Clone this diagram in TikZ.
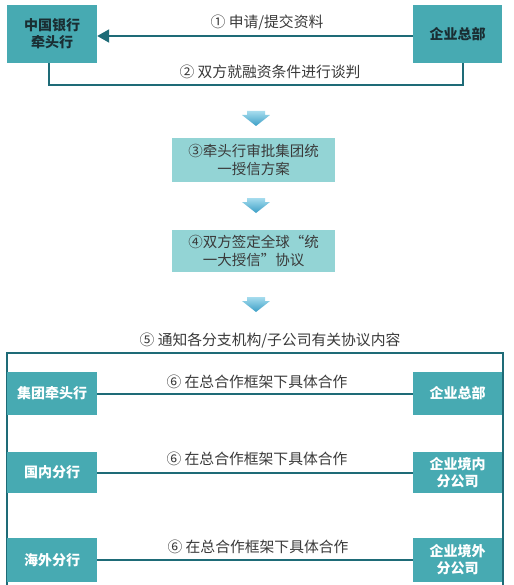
\documentclass[tikz,border=0pt]{standalone}
\usepackage{fontspec}
\setmainfont{Noto Sans CJK SC}
\usetikzlibrary{arrows.meta}
\definecolor{boxteal}{HTML}{47AAB2}
\definecolor{lightteal}{HTML}{93D4D5}
\definecolor{lineteal}{HTML}{1E6B77}
\definecolor{labelgray}{HTML}{3A3A3A}
\definecolor{darktext}{HTML}{1A2E33}
\definecolor{arrtop}{HTML}{A6DCEE}
\definecolor{arrbot}{HTML}{3B9FC6}
\tikzset{
  topbox/.style={fill=boxteal, text=darktext, font=\fontsize{14}{17}\selectfont\bfseries, align=center, inner sep=0pt},
  rowbox/.style={fill=boxteal, text=white, font=\fontsize{14}{17}\selectfont\bfseries, align=center, inner sep=0pt, minimum width=90pt},
  stepbox/.style={fill=lightteal, text=labelgray, font=\fontsize{14.5}{18}\selectfont, align=center, inner sep=0pt, minimum width=163pt},
  lbl/.style={text=labelgray, font=\fontsize{14.8}{17}\selectfont, inner sep=0pt},
  conn/.style={draw=lineteal, line width=2pt},
  downarrow/.pic={\shade[top color=arrtop, bottom color=arrbot] (-9,0) -- (9,0) -- (9,4) -- (14,4) -- (0,15) -- (-14,4) -- (-9,4) -- cycle;}
}
\begin{document}
\begin{tikzpicture}[x=1pt,y=-1pt]
\useasboundingbox (0,0) rectangle (513,585);
\fill[white] (0,0) rectangle (513,585);
% frame
\draw[conn] (7,585) -- (7,353) -- (503,353) -- (503,585);
% top boxes
\node[topbox, minimum width=90pt, minimum height=58pt] (bank) at (52,34) {中国银行\\牵头行};
\node[topbox, minimum width=89pt, minimum height=58pt] (hq) at (457.5,34) {企业总部};
\draw[conn, -{Triangle[length=12pt,width=13pt]}] (hq.west |- 0,36) coordinate (a1) -- (bank.east |- 0,36) coordinate (a2);
\node[lbl] (l1) at (267,23) {① 申请/提交资料};
\coordinate (b1) at (49,85);
\coordinate (b2) at (463,85);
\draw[conn] (bank.south -| b1) -- (b1) -- (b2) -- (hq.south -| b2);
\node[lbl] (l2) at (270,72) {② 双方就融资条件进行谈判};
% steps
\pic at (256,111) {downarrow};
\node[stepbox, minimum height=44pt] (s3) at (253.5,160) {③牵头行审批集团统\\一授信方案};
\pic at (256,198) {downarrow};
\node[stepbox, minimum height=42pt] (s4) at (253.5,251) {④双方签定全球“统\\一大授信”协议};
\pic at (256,297) {downarrow};
\node[lbl] (l5) at (270,341) {⑤ 通知各分支机构/子公司有关协议内容};
% rows
\node[rowbox, minimum height=43pt] (r1l) at (52,393.5) {集团牵头行};
\node[rowbox, minimum height=43pt, minimum width=89pt] (r1r) at (457.5,393.5) {企业总部};
\draw[conn] (r1l) -- (r1r);
\node[lbl] (l6a) at (257,382) {⑥ 在总合作框架下具体合作};
\node[rowbox, minimum height=41pt] (r2l) at (52,472.5) {国内分行};
\node[rowbox, minimum height=41pt, minimum width=89pt] (r2r) at (457.5,472.5) {企业境内\\分公司};
\draw[conn] (r2l) -- (r2r);
\node[lbl] (l6b) at (257,459) {⑥ 在总合作框架下具体合作};
\node[rowbox, minimum height=44pt] (r3l) at (52,560) {海外分行};
\node[rowbox, minimum height=44pt, minimum width=89pt] (r3r) at (457.5,560) {企业境外\\分公司};
\draw[conn] (r3l) -- (r3r);
\node[lbl] (l6c) at (258,547) {⑥ 在总合作框架下具体合作};
\end{tikzpicture}
\end{document}
